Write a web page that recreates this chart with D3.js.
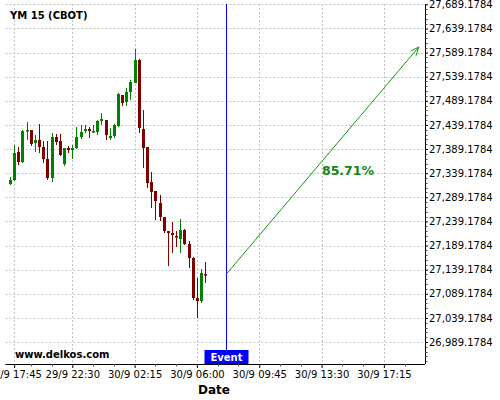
<!DOCTYPE html>
<html><head><meta charset="utf-8">
<script src="https://cdn.jsdelivr.net/npm/d3@7"></script>
<style>body{margin:0;background:#fff}svg{display:block;font-family:"DejaVu Sans",sans-serif}</style>
</head><body><svg id="c" width="500" height="400"></svg>
<script>
const title = "YM 15 (CBOT)";
const opens  = [27316.7,27325.0,27383.0,27362.3,27426.5,27428.6,27401.7,27407.9,27393.4,27368.5,27329.1,27414.1,27405.8,27358.1,27391.3,27387.1,27391.3,27414.1,27426.5,27430.7,27424.5,27424.5,27447.3,27449.3,27412.0,27416.2,27436.9,27501.2,27486.6,27507.4,27526.0,27573.7,27430.7,27393.4,27320.8,27302.2,27277.3,27248.3,27219.2,27215.1,27208.9,27202.6,27221.3,27192.3,27163.3,27080.3,27074.1,27130.1];
const highs  = [27331.2,27397.5,27393.4,27428.6,27445.2,27428.6,27418.2,27441.0,27405.8,27405.8,27422.4,27420.3,27420.3,27391.3,27395.4,27397.5,27434.8,27439.0,27439.0,27434.8,27439.0,27449.3,27463.8,27449.3,27432.8,27441.0,27505.3,27501.2,27515.7,27532.3,27596.5,27575.8,27470.1,27393.4,27341.5,27302.2,27293.9,27248.3,27219.2,27237.9,27219.2,27244.1,27223.4,27198.5,27165.3,27121.8,27140.5,27155.0];
const lows   = [27314.6,27322.9,27356.0,27360.2,27407.9,27395.4,27383.0,27380.9,27360.0,27325.0,27320.8,27397.5,27374.7,27354.0,27380.9,27368.5,27389.2,27409.9,27422.4,27412.0,27422.4,27418.2,27439.0,27407.9,27407.9,27412.0,27434.8,27478.4,27478.4,27490.8,27526.0,27422.4,27349.8,27308.4,27266.9,27242.0,27240.0,27215.1,27146.7,27173.6,27186.1,27173.6,27190.2,27142.5,27076.2,27038.9,27070.0,27111.4];
const closes = [27325.0,27380.9,27362.3,27426.5,27428.6,27399.6,27407.9,27393.4,27368.5,27329.1,27414.1,27403.7,27376.8,27391.3,27387.1,27391.3,27414.1,27424.5,27430.7,27426.5,27426.5,27447.3,27451.4,27418.2,27416.2,27439.0,27503.2,27484.6,27507.4,27528.1,27573.7,27432.8,27391.3,27318.7,27300.1,27281.4,27248.3,27219.2,27215.1,27210.9,27206.8,27221.3,27192.3,27163.3,27080.3,27074.1,27132.2,27128.0];
const xTickIdx = [1,15,30,45,60,75,90];
const xTickLabels = ["29/9 17:45","29/9 22:30","30/9 02:15","30/9 06:00","30/9 09:45","30/9 13:30","30/9 17:15"];
const yTicks = [26989.1784,27039.1784,27089.1784,27139.1784,27189.1784,27239.1784,27289.1784,27339.1784,27389.1784,27439.1784,27489.1784,27539.1784,27589.1784,27639.1784,27689.1784];
const eventIdx = 52;
const arrowFrom = [52, 27129];
const arrowTo = [98.4, 27600.7];
const probText = "85.71%";
const probPos = [75.1, 27335];

const svg = d3.select("#c");
const L=5.4, R=425, T=4, B=364;
const x = d3.scaleLinear().domain([-1.1, 99.9]).range([L, R]);
const y = d3.scaleLinear().domain([26943.6, 27689.8]).range([B, T]);

// grid
const g = svg.append("g");
g.selectAll(".hg").data(yTicks).join("line")
  .attr("x1", L).attr("x2", R).attr("y1", d=>Math.round(y(d))+0.5).attr("y2", d=>Math.round(y(d))+0.5)
  .attr("stroke","#c4c4c4").attr("stroke-dasharray","2,2");
g.selectAll(".vg").data(xTickIdx).join("line")
  .attr("y1", T).attr("y2", B).attr("x1", d=>Math.round(x(d))+0.5).attr("x2", d=>Math.round(x(d))+0.5)
  .attr("stroke","#c4c4c4").attr("stroke-dasharray","2,2");

// candles
const idx = d3.range(opens.length);
const cg = svg.append("g");
idx.forEach(i=>{
  const up = closes[i] >= opens[i];
  const col = up ? "#008000" : "#800000";
  const cx = Math.round(x(i)) + 0.5;
  cg.append("line").attr("x1",cx).attr("x2",cx).attr("y1",y(highs[i])).attr("y2",y(lows[i])).attr("stroke",col).attr("stroke-width",1);
  const top = y(Math.max(opens[i],closes[i])), bot = y(Math.min(opens[i],closes[i]));
  cg.append("rect").attr("x",cx-1.5).attr("width",3).attr("y",top).attr("height",Math.max(1.5,bot-top)).attr("fill",col);
});

// axes
const yAxis = d3.axisRight(y).tickValues(yTicks).tickSize(3).tickPadding(1).tickFormat(d3.format(",.4f"));
const ya = svg.append("g").attr("transform",`translate(${R},0)`).call(yAxis);
ya.select(".domain").attr("d",`M0.5,${T}V${B}`);
ya.selectAll("text").attr("font-size",10).attr("font-family","DejaVu Sans").attr("fill","#000");
const yMinor = d3.range(26949.1784, 27689.2, 10).filter(v=>!yTicks.some(t=>Math.abs(t-v)<0.01));
ya.selectAll(".ym").data(yMinor).join("line").attr("x1",0.5).attr("x2",2.5).attr("y1",d=>Math.round(y(d))+0.5).attr("y2",d=>Math.round(y(d))+0.5).attr("stroke","#555");

const xAxis = d3.axisBottom(x).tickValues(xTickIdx).tickSize(4).tickPadding(3).tickFormat((d,i)=>xTickLabels[i]);
const xa = svg.append("g").attr("transform",`translate(0,${B})`).call(xAxis);
xa.select(".domain").attr("d",`M${L},0.5H${R}`);
xa.selectAll("text").attr("font-size",10).attr("font-family","DejaVu Sans").attr("fill","#000");
const xMinor = d3.range(0, 100, 5).filter(v=>x(v)>L && !xTickIdx.some(t=>Math.abs(t-v)<2));
xa.selectAll(".xm").data(xMinor).join("line").attr("y1",0).attr("y2",2.5).attr("x1",d=>Math.round(x(d))+0.5).attr("x2",d=>Math.round(x(d))+0.5).attr("stroke","#555");

// event line
const ex = Math.round(x(eventIdx))+0.5;
svg.append("line").attr("x1",ex).attr("x2",ex).attr("y1",T).attr("y2",B).attr("stroke","#0000ff").attr("stroke-width",1);
svg.append("rect").attr("x",ex-22).attr("y",350).attr("width",44).attr("height",14).attr("fill","#0000ff");
svg.append("text").attr("x",ex).attr("y",361).attr("text-anchor","middle").attr("fill","#fff").attr("font-weight","bold").attr("font-size",10).text("Event");

// arrow
const x1=x(arrowFrom[0]), y1=y(arrowFrom[1]), x2=x(arrowTo[0]), y2=y(arrowTo[1]);
svg.append("line").attr("x1",x1).attr("y1",y1).attr("x2",x2).attr("y2",y2).attr("stroke","#119911").attr("stroke-width",1);
const ang = Math.atan2(y2-y1, x2-x1), hl=9, ha=0.4;
svg.append("path").attr("d",`M${x2-hl*Math.cos(ang-ha)},${y2-hl*Math.sin(ang-ha)}L${x2},${y2}L${x2-hl*Math.cos(ang+ha)},${y2-hl*Math.sin(ang+ha)}`)
  .attr("fill","none").attr("stroke","#119911").attr("stroke-width",1);
svg.append("text").attr("x",x(probPos[0])).attr("y",y(probPos[1])).attr("fill","#118811").attr("font-weight","bold").attr("font-size",12.5).text(probText);

// texts
svg.append("text").attr("x",10).attr("y",19).attr("font-weight","bold").attr("font-size",10).text(title);
svg.append("text").attr("x",15).attr("y",358).attr("font-weight","bold").attr("font-size",10).text("www.delkos.com");
svg.append("text").attr("x",214).attr("y",394).attr("text-anchor","middle").attr("font-weight","bold").attr("font-size",12).text("Date");
</script></body></html>
